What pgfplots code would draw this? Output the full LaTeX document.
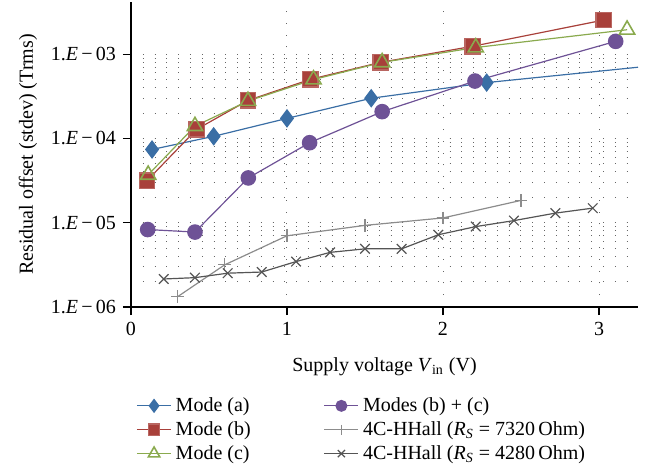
\documentclass[border=0pt]{standalone}
\usepackage{fontspec}
\setmainfont{Liberation Serif}
\usepackage{pgfplots}
\pgfplotsset{compat=1.18}

\definecolor{cA}{RGB}{58,110,165}
\definecolor{cB}{RGB}{168,64,58}
\definecolor{cC}{RGB}{138,170,78}
\definecolor{cBC}{RGB}{110,82,150}
\definecolor{cH1}{RGB}{140,140,140}
\definecolor{cH2}{RGB}{85,85,85}

\begin{document}
\begin{tikzpicture}
\begin{axis}[
    scale only axis, width=253.5pt, height=152.5pt,
    xmin=0, xmax=3.25,
    ymode=log, ymin=1e-6, ymax=4.16e-3,
    axis lines=left, axis line style={-, line width=0.7pt},
    xtick={0,1,2,3}, xticklabels={0,1,2,3},
    ytick={1e-6,1e-5,1e-4,1e-3},
    yticklabels={1.\textit{E}\,−\,06, 1.\textit{E}\,−\,05, 1.\textit{E}\,−\,04, 1.\textit{E}\,−\,03},
    tick align=outside, major tick length=4pt, minor tick length=0pt,
    tick style={black, line width=0.6pt},
    xmajorgrids, ymajorgrids, yminorgrids,
    grid style={dash pattern=on 0.5pt off 5.4pt, black!60, line width=0.5pt},
    minor grid style={dash pattern=on 0.5pt off 5.4pt, black!60, line width=0.5pt},
    xlabel={Supply voltage \textit{V}\textsubscript{in} (V)},
    xlabel style={yshift=-4pt},
    ylabel={Residual offset (stdev) (Trms)},
    legend columns=2,
    legend cell align=left,
    legend image post style={/tikz/every mark/.append style={scale=0.75}},
    legend style={at={(0,0)}, anchor=north west, yshift=-41pt, xshift=-0.5pt,
        draw=none, fill=none, row sep=-0.5pt,
        /tikz/column 2/.style={column sep=34.5pt}},
]

% Mode (a): tail of the line runs to the axis edge, no mark there
\addplot[cA, line width=0.6pt, forget plot]
coordinates { (2.28, 4.6e-4) (3.25, 7.0e-4) };

\addplot[cA, line width=0.6pt, mark=diamond*, mark size=4.2pt,
    mark options={fill=cA, draw=cA}]
coordinates {
    (0.135, 7.4e-5) (0.53, 1.06e-4) (1.0, 1.73e-4) (1.54, 3.0e-4)
    (2.28, 4.6e-4)
};
\addlegendentry{Mode (a)}

% Modes (b) + (c)
\addplot[cBC, line width=0.6pt, mark=*, mark size=3.6pt,
    mark options={fill=cBC, draw=cBC}]
coordinates {
    (0.107, 8.3e-6) (0.41, 7.75e-6) (0.752, 3.4e-5) (1.145, 8.9e-5)
    (1.61, 2.08e-4) (2.205, 4.8e-4) (3.107, 1.42e-3)
};
\addlegendentry{Modes (b) + (c)}

% Mode (b)
\addplot[cB, line width=0.6pt, mark=square*, mark size=3.8pt,
    mark options={fill=cB, draw=cB!80!white}]
coordinates {
    (0.103, 3.16e-5) (0.42, 1.28e-4) (0.75, 2.83e-4) (1.15, 5.03e-4)
    (1.60, 8.0e-4) (2.19, 1.24e-3) (3.03, 2.54e-3)
};
\addlegendentry{Mode (b)}

% 4C-HHall 7320 Ohm
\addplot[cH1, line width=0.6pt, mark=+, mark size=3.2pt,
    mark options={draw=cH1}]
coordinates {
    (0.30, 1.33e-6) (0.60, 3.16e-6) (1.0, 7.0e-6) (1.50, 9.3e-6)
    (2.0, 1.14e-5) (2.50, 1.84e-5)
};
\addlegendentry{4C-HHall (\textit{R}\textsubscript{\textit{S}} = 7320\,Ohm)}

% Mode (c)
\addplot[cC, line width=0.6pt, mark=triangle, mark size=4.4pt,
    mark options={draw=cC, line width=0.8pt, fill=none}]
coordinates {
    (0.11, 3.7e-5) (0.41, 1.4e-4) (0.75, 2.78e-4) (1.17, 5.0e-4)
    (1.61, 8.0e-4) (2.21, 1.2e-3) (3.18, 1.95e-3)
};
\addlegendentry{Mode (c)}

% 4C-HHall 4280 Ohm
\addplot[cH2, line width=0.6pt, mark=x, mark size=3.4pt,
    mark options={draw=cH2}]
coordinates {
    (0.21, 2.15e-6) (0.41, 2.23e-6) (0.62, 2.52e-6) (0.838, 2.6e-6)
    (1.058, 3.46e-6) (1.276, 4.45e-6) (1.50, 4.9e-6) (1.735, 4.9e-6)
    (1.97, 7.2e-6) (2.21, 9.0e-6) (2.455, 1.06e-5) (2.72, 1.30e-5)
    (2.96, 1.49e-5)
};
\addlegendentry{4C-HHall (\textit{R}\textsubscript{\textit{S}} = 4280\,Ohm)}

\end{axis}
\pgfresetboundingbox
\path (current axis.south west) ++(-65.5pt,-81.5pt) rectangle ++(324pt,235pt);
\end{tikzpicture}
\end{document}
